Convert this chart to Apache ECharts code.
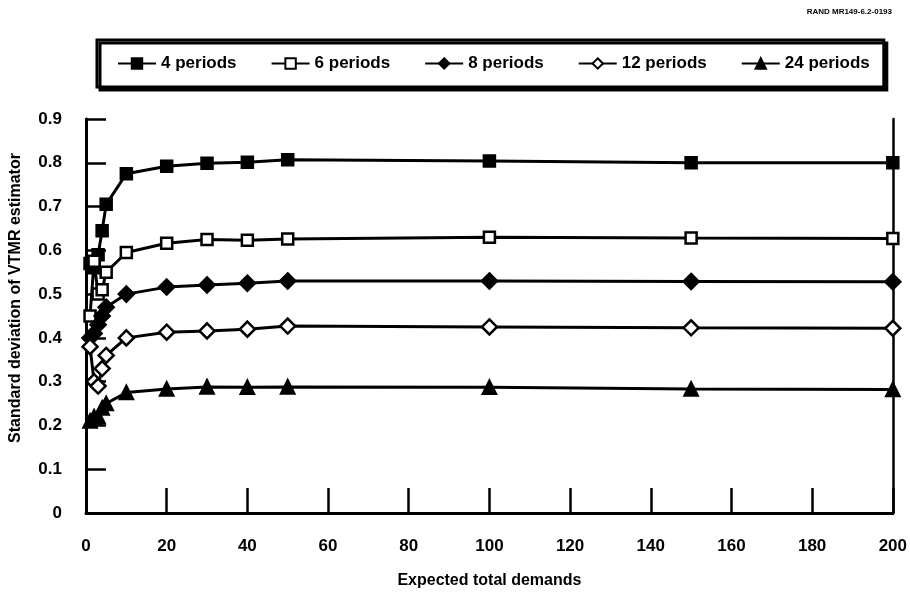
<!DOCTYPE html>
<html>
<head>
<meta charset="utf-8">
<script src="https://cdn.jsdelivr.net/npm/echarts@6/dist/echarts.min.js"></script>
<style>
html,body{margin:0;padding:0;background:#fff;}
#chart{width:910px;height:599px;}
</style>
</head>
<body>
<div id="chart"></div>
<script>
// Data
const xValues = [1, 2, 3, 4, 5, 10, 20, 30, 40, 50, 100, 150, 200];
const seriesNames = ['4 periods', '6 periods', '8 periods', '12 periods', '24 periods'];
const p4  = [0.57, 0.56, 0.59, 0.645, 0.705, 0.775, 0.792, 0.799, 0.801, 0.807, 0.804, 0.800, 0.800];
const p6  = [0.45, 0.575, 0.50, 0.51, 0.55, 0.595, 0.616, 0.625, 0.623, 0.626, 0.630, 0.628, 0.627];
const p8  = [0.40, 0.41, 0.43, 0.45, 0.47, 0.500, 0.516, 0.521, 0.525, 0.530, 0.530, 0.529, 0.528];
const p12 = [0.38, 0.30, 0.29, 0.33, 0.36, 0.400, 0.413, 0.416, 0.420, 0.427, 0.425, 0.423, 0.422];
const p24 = [0.21, 0.22, 0.22, 0.24, 0.25, 0.275, 0.283, 0.288, 0.287, 0.288, 0.287, 0.283, 0.282];
const yTicks = ['0', '0.1', '0.2', '0.3', '0.4', '0.5', '0.6', '0.7', '0.8', '0.9'];
const xTicks = ['0', '20', '40', '60', '80', '100', '120', '140', '160', '180', '200'];

const allValues = [p4, p6, p8, p12, p24];
const symbols = ['rect', 'rect', 'diamond', 'diamond', 'triangle'];
const fills = ['#000', '#fff', '#000', '#fff', '#000'];
const sizes = [11, 11, 15, 15, 13];

const font = '"Liberation Sans", Arial, sans-serif';
const chart = echarts.init(document.getElementById('chart'));

const series = seriesNames.map((name, i) => ({
  name: name,
  type: 'line',
  data: xValues.map((x, j) => [x, allValues[i][j]]),
  symbol: symbols[i],
  symbolSize: sizes[i],
  showAllSymbol: true,
  lineStyle: { color: '#000', width: 3 },
  itemStyle: { color: fills[i], borderColor: '#000', borderWidth: 2.5 },
  z: 3
}));

chart.setOption({
  animation: false,
  backgroundColor: '#fff',
  textStyle: { fontFamily: font },
  graphic: [{
    type: 'text', right: 18, top: 8,
    style: { text: 'RAND MR149-6.2-0193', font: 'bold 8px ' + font, fill: '#000' }
  }],
  legend: {
    data: seriesNames,
    left: 97, top: 40,
    padding: [15, 14, 15, 20],
    itemGap: 34,
    itemWidth: 38, itemHeight: 13,
    borderColor: '#000', borderWidth: 3,
    shadowColor: '#000', shadowOffsetX: 3, shadowOffsetY: 3, shadowBlur: 0,
    backgroundColor: '#fff',
    textStyle: { fontFamily: font, fontWeight: 'bold', fontSize: 17, color: '#000' }
  },
  grid: { left: 84, right: 13, top: 119, bottom: 86, containLabel: false },
  xAxis: {
    type: 'value', min: 0, max: 200, interval: 20,
    name: 'Expected total demands', nameLocation: 'middle', nameGap: 60,
    nameTextStyle: { fontFamily: font, fontWeight: 'bold', fontSize: 16, color: '#000' },
    axisLine: { show: true, lineStyle: { color: '#000', width: 3 } },
    axisTick: { show: true, inside: true, length: 25, lineStyle: { color: '#000', width: 2.5 } },
    axisLabel: { fontFamily: font, fontWeight: 'bold', fontSize: 17, color: '#000', margin: 25,
      formatter: v => xTicks[Math.round(v / 20)] },
    splitLine: { show: false }
  },
  yAxis: [{
    type: 'value', min: 0, max: 0.9, interval: 0.1,
    name: 'Standard deviation of VTMR estimator', nameLocation: 'middle', nameGap: 62,
    nameTextStyle: { fontFamily: font, fontWeight: 'bold', fontSize: 16, color: '#000', padding: [0, 0, 0, 36] },
    axisLine: { show: true, lineStyle: { color: '#000', width: 3 } },
    axisTick: { show: true, inside: true, length: 20, lineStyle: { color: '#000', width: 2.5 } },
    axisLabel: { fontFamily: font, fontWeight: 'bold', fontSize: 17, color: '#000', margin: 24,
      formatter: v => yTicks[Math.round(v * 10)] },
    splitLine: { show: false }
  }, {
    type: 'value', min: 0, max: 0.9, interval: 0.1, position: 'right',
    axisLine: { show: true, lineStyle: { color: '#000', width: 2.5 } },
    axisTick: { show: false }, axisLabel: { show: false }, splitLine: { show: false }
  }],
  series: series
});
</script>
</body>
</html>
